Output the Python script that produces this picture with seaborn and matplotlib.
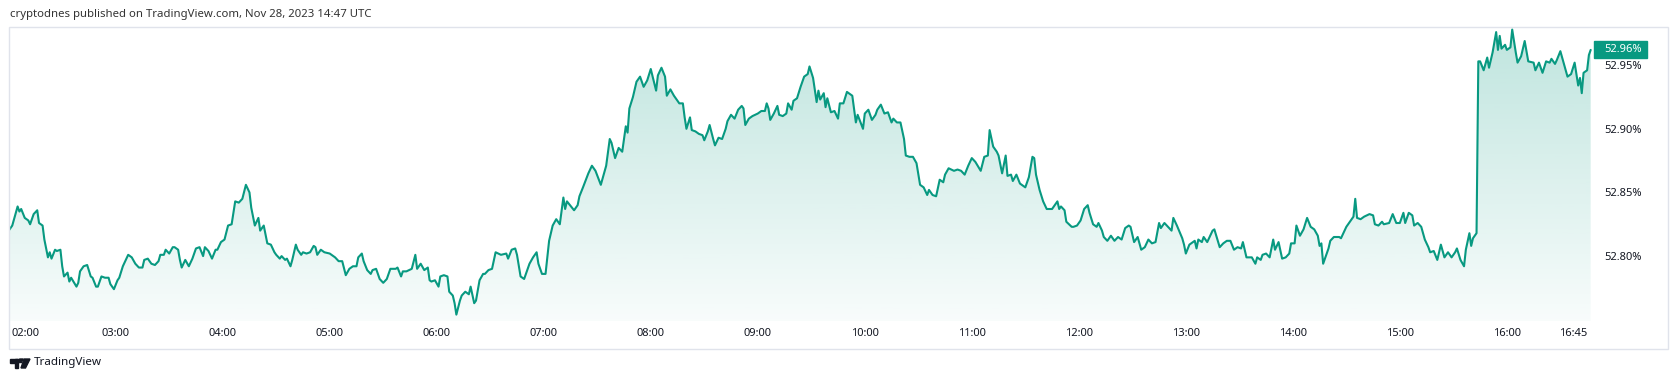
import numpy as np
import pandas as pd
import matplotlib
matplotlib.use("Agg")
import matplotlib.pyplot as plt
import matplotlib.colors as mcolors
import matplotlib.transforms as mtransforms
from matplotlib.patches import Rectangle, Polygon
import seaborn as sns

# minutes after 02:00 (chart time) and the value in %
minutes = [
    0, 2, 5, 6, 7, 9, 11, 12, 14, 16, 17, 19, 20, 22, 23, 24, 26, 27, 29, 30,
    31, 33, 34, 35, 38, 39, 40, 42, 44, 46, 47, 49, 50, 52, 54, 56, 57, 59, 61, 62,
    64, 67, 69, 71, 73, 75, 76, 78, 80, 82, 84, 85, 87, 88, 90, 92, 93, 95, 96, 97,
    99, 101, 103, 105, 107, 109, 110, 112, 114, 116, 117, 119, 121, 123, 125, 127, 129, 131, 133, 134,
    135, 136, 138, 140, 141, 143, 145, 147, 149, 150, 152, 153, 155, 156, 158, 159, 161, 162, 164, 165,
    167, 169, 171, 172, 173, 175, 177, 180, 183, 185, 187, 189, 191, 193, 195, 196, 198, 199, 201, 203,
    204, 206, 208, 210, 212, 214, 217, 218, 220, 221, 223, 226, 228, 229, 231, 233, 235, 236, 237, 239,
    241, 242, 244, 246, 247, 249, 250, 251, 253, 254, 256, 258, 259, 261, 262, 264, 266, 267, 269, 271,
    273, 276, 279, 280, 282, 284, 285, 287, 289, 292, 294, 296, 297, 299, 301, 303, 305, 307, 309, 311,
    312, 313, 317, 319, 320, 322, 325, 327, 329, 332, 335, 337, 338, 340, 342, 344, 346, 347, 348, 350,
    352, 354, 356, 358, 360, 363, 364, 366, 368, 369, 371, 373, 376, 378, 379, 380, 382, 383, 385, 387,
    389, 390, 392, 393, 395, 396, 398, 400, 402, 403, 405, 407, 409, 411, 412, 413, 415, 417, 420, 422,
    424, 425, 426, 427, 429, 431, 432, 434, 436, 437, 439, 440, 442, 444, 446, 448, 449, 451, 453, 454,
    455, 457, 458, 459, 461, 463, 465, 466, 468, 470, 473, 475, 476, 479, 480, 482, 484, 486, 487, 489,
    491, 493, 495, 496, 498, 500, 502, 503, 505, 507, 509, 511, 513, 515, 516, 518, 520, 522, 524, 525,
    527, 530, 532, 534, 536, 538, 540, 542, 545, 547, 549, 550, 552, 554, 555, 557, 559, 560, 562, 563,
    565, 567, 570, 572, 574, 575, 576, 578, 580, 582, 583, 585, 588, 589, 590, 592, 593, 596, 597, 599,
    601, 603, 605, 606, 608, 610, 611, 613, 614, 616, 618, 620, 622, 624, 626, 628, 629, 631, 633, 635,
    637, 639, 641, 643, 645, 646, 648, 650, 652, 653, 655, 658, 659, 660, 662, 663, 665, 666, 667, 669,
    670, 672, 675, 676, 679, 681, 683, 685, 687, 689, 691, 692, 694, 697, 699, 700, 702, 703, 705, 707,
    709, 710, 712, 714, 716, 718, 719, 721, 722, 724, 726, 728, 730, 732, 734, 735, 736, 737, 740, 741,
    743, 746, 747, 750, 752, 754, 755, 756, 758, 760, 763, 765, 766, 768, 770, 771, 774, 776, 778, 780,
    782, 783, 785, 787, 788, 790, 792, 794, 796, 797, 799, 801, 803, 805, 807, 809, 811, 812, 814, 816,
    817, 819, 820, 821, 823, 824, 825, 827, 829, 830, 832, 834, 835, 836, 837, 839, 840, 842, 843, 845,
    846, 848, 850, 852, 855, 856, 858, 860, 862, 864, 865, 867, 868, 870, 872, 874, 876, 878, 880, 881,
    882, 883, 885, 886, 887,
]
values = [
    52.820, 52.824, 52.839, 52.835, 52.837, 52.830, 52.828, 52.825, 52.833, 52.836, 52.826, 52.824, 52.813, 52.799, 52.803, 52.798, 52.805, 52.804, 52.805, 52.792,
    52.784, 52.787, 52.780, 52.783, 52.776, 52.779, 52.788, 52.792, 52.793, 52.784, 52.783, 52.776, 52.776, 52.784, 52.783, 52.783, 52.778, 52.774, 52.781, 52.783,
    52.792, 52.801, 52.799, 52.794, 52.791, 52.791, 52.797, 52.798, 52.794, 52.793, 52.796, 52.801, 52.801, 52.805, 52.802, 52.807, 52.807, 52.805, 52.797, 52.791,
    52.797, 52.792, 52.798, 52.806, 52.807, 52.800, 52.807, 52.804, 52.798, 52.805, 52.805, 52.811, 52.813, 52.824, 52.825, 52.843, 52.842, 52.845, 52.856, 52.853,
    52.850, 52.838, 52.824, 52.830, 52.820, 52.824, 52.810, 52.809, 52.803, 52.801, 52.798, 52.800, 52.797, 52.798, 52.792, 52.797, 52.809, 52.805, 52.801, 52.803,
    52.802, 52.803, 52.808, 52.807, 52.801, 52.805, 52.803, 52.802, 52.799, 52.796, 52.796, 52.785, 52.790, 52.792, 52.792, 52.799, 52.802, 52.796, 52.789, 52.786,
    52.789, 52.790, 52.782, 52.779, 52.782, 52.790, 52.790, 52.791, 52.784, 52.788, 52.788, 52.790, 52.801, 52.790, 52.794, 52.789, 52.791, 52.781, 52.780, 52.781,
    52.776, 52.784, 52.785, 52.784, 52.772, 52.769, 52.763, 52.754, 52.765, 52.769, 52.772, 52.770, 52.776, 52.763, 52.765, 52.781, 52.786, 52.786, 52.789, 52.790,
    52.803, 52.801, 52.802, 52.798, 52.805, 52.806, 52.801, 52.784, 52.782, 52.794, 52.799, 52.803, 52.794, 52.786, 52.786, 52.812, 52.824, 52.829, 52.825, 52.846,
    52.837, 52.843, 52.836, 52.840, 52.847, 52.854, 52.865, 52.871, 52.867, 52.856, 52.871, 52.892, 52.889, 52.877, 52.885, 52.882, 52.902, 52.897, 52.916, 52.925,
    52.937, 52.941, 52.933, 52.938, 52.947, 52.930, 52.942, 52.948, 52.941, 52.926, 52.931, 52.926, 52.920, 52.920, 52.909, 52.900, 52.909, 52.899, 52.898, 52.896,
    52.895, 52.891, 52.898, 52.903, 52.892, 52.887, 52.893, 52.892, 52.900, 52.906, 52.911, 52.908, 52.915, 52.918, 52.916, 52.903, 52.908, 52.910, 52.912, 52.914,
    52.914, 52.920, 52.916, 52.907, 52.912, 52.918, 52.911, 52.910, 52.912, 52.920, 52.915, 52.922, 52.924, 52.933, 52.941, 52.943, 52.949, 52.940, 52.921, 52.930,
    52.923, 52.928, 52.917, 52.924, 52.913, 52.914, 52.908, 52.920, 52.920, 52.929, 52.926, 52.905, 52.911, 52.900, 52.912, 52.915, 52.907, 52.911, 52.915, 52.919,
    52.912, 52.913, 52.905, 52.908, 52.905, 52.905, 52.892, 52.879, 52.878, 52.878, 52.873, 52.856, 52.854, 52.848, 52.852, 52.848, 52.847, 52.860, 52.858, 52.864,
    52.869, 52.867, 52.868, 52.867, 52.864, 52.871, 52.877, 52.874, 52.867, 52.878, 52.879, 52.899, 52.886, 52.882, 52.879, 52.865, 52.879, 52.863, 52.864, 52.859,
    52.864, 52.857, 52.854, 52.862, 52.878, 52.877, 52.864, 52.852, 52.843, 52.837, 52.837, 52.837, 52.843, 52.837, 52.839, 52.836, 52.827, 52.823, 52.823, 52.824,
    52.828, 52.837, 52.840, 52.834, 52.825, 52.823, 52.826, 52.820, 52.815, 52.812, 52.816, 52.812, 52.815, 52.813, 52.822, 52.824, 52.823, 52.811, 52.815, 52.805,
    52.807, 52.813, 52.810, 52.811, 52.826, 52.822, 52.826, 52.823, 52.820, 52.830, 52.824, 52.814, 52.809, 52.802, 52.809, 52.810, 52.812, 52.806, 52.813, 52.811,
    52.815, 52.811, 52.820, 52.821, 52.807, 52.810, 52.812, 52.812, 52.805, 52.807, 52.806, 52.811, 52.799, 52.799, 52.794, 52.799, 52.797, 52.801, 52.802, 52.799,
    52.813, 52.805, 52.811, 52.798, 52.799, 52.802, 52.810, 52.810, 52.824, 52.816, 52.821, 52.830, 52.823, 52.821, 52.816, 52.808, 52.810, 52.794, 52.806, 52.812,
    52.815, 52.815, 52.814, 52.823, 52.827, 52.831, 52.845, 52.830, 52.829, 52.831, 52.833, 52.832, 52.825, 52.824, 52.827, 52.825, 52.826, 52.833, 52.826, 52.826,
    52.834, 52.826, 52.834, 52.832, 52.824, 52.826, 52.823, 52.813, 52.807, 52.803, 52.804, 52.797, 52.809, 52.799, 52.803, 52.799, 52.803, 52.806, 52.797, 52.792,
    52.805, 52.818, 52.808, 52.814, 52.818, 52.953, 52.953, 52.946, 52.956, 52.948, 52.960, 52.976, 52.962, 52.973, 52.963, 52.966, 52.962, 52.964, 52.978, 52.960,
    52.952, 52.957, 52.969, 52.953, 52.952, 52.946, 52.952, 52.944, 52.953, 52.952, 52.955, 52.951, 52.954, 52.961, 52.951, 52.941, 52.943, 52.952, 52.934, 52.940,
    52.928, 52.944, 52.946, 52.958, 52.962,
]
hour_labels = ["02:00", "03:00", "04:00", "05:00", "06:00", "07:00", "08:00", "09:00",
               "10:00", "11:00", "12:00", "13:00", "14:00", "15:00", "16:00", "16:45"]
tick_minutes = [0, 60, 120, 180, 240, 300, 360, 420, 480, 540, 600, 660, 720, 780, 840, 885]
price_ticks = [52.80, 52.85, 52.90, 52.95]

W, H = 1678, 382
TEAL = "#089981"
TXT = "#131722"
FS = 8.0

sns.set_style("white")
plt.rcParams["font.family"] = ["Noto Sans", "DejaVu Sans"]

start = pd.Timestamp("2023-11-28 02:00")
df = pd.DataFrame({"time": start + pd.to_timedelta(minutes, unit="m"), "value": values})

def fx(px):
    return px / W

def fy(py):
    return 1 - py / H

fig = plt.figure(figsize=(W / 100, H / 100), dpi=100)
ax = fig.add_axes([fx(9), fy(321), fx(1593) - fx(9), fy(27) - fy(321)])

sns.lineplot(data=df, x="time", y="value", ax=ax, color=TEAL, lw=1.5, zorder=3)

x0 = start + pd.Timedelta(minutes=0.17)
x1 = start + pd.Timedelta(minutes=888.3)
y0, y1 = 52.749, 52.980

# vertical gradient under the line
poly = ax.fill_between(df["time"], df["value"], y0, color="none", lw=0)
grad = np.zeros((256, 1, 4))
grad[..., :3] = mcolors.to_rgb(TEAL)
grad[..., 3] = np.linspace(0.26, 0.03, 256)[:, None]
xn0, xn1 = ax.convert_xunits(x0), ax.convert_xunits(x1)
im = ax.imshow(grad, extent=[xn0, xn1, y0, y1], aspect="auto", origin="upper", zorder=2)
im.set_clip_path(poly.get_paths()[0], transform=ax.transData)

ax.set_xlim(x0, x1)
ax.set_ylim(y0, y1)
for s in ax.spines.values():
    s.set_visible(False)
ax.set_xlabel("")
ax.set_ylabel("")

# price scale
ax.yaxis.tick_right()
ax.set_yticks(price_ticks)
ax.set_yticklabels([f"{p:.2f}%" for p in price_ticks])
ax.tick_params(axis="y", length=0, pad=8.4, labelsize=FS, labelcolor=TXT)

# time scale
ax.set_xticks([])
xt = ax.get_xaxis_transform()
for i, (m, lab) in enumerate(zip(tick_minutes, hour_labels)):
    t = start + pd.Timedelta(minutes=m)
    ha = "center"
    if i == 0:
        t, ha = start + pd.Timedelta(minutes=1.3), "left"
    elif i == len(hour_labels) - 1:
        ha = "right"
    ax.text(t, -12 / 294, lab, transform=xt, ha=ha, va="center", fontsize=FS, color=TXT)

# last value badge
last = values[-1]
bt = mtransforms.blended_transform_factory(fig.transFigure, ax.transData)
bh = 17 / 1273
ax.add_patch(Rectangle((fx(1594), last - bh / 2), fx(53), bh, transform=bt,
                       color=TEAL, clip_on=False, zorder=5))
ax.text(fx(1604), last, f"{last:.2f}%", transform=bt, ha="left", va="center",
        fontsize=FS, color="white", fontweight="bold", zorder=6)

# outer frame
fig.patches.append(Rectangle((fx(9), fy(349)), fx(1668) - fx(9), fy(27) - fy(349),
                             transform=fig.transFigure, fill=False, ec="#e0e3eb", lw=1))

fig.text(fx(10), fy(14), "cryptodnes published on TradingView.com, Nov 28, 2023 14:47 UTC",
         ha="left", va="center", fontsize=8.2, color="#333333")

# TradingView logo
fig.patches.append(Rectangle((fx(10), fy(362.5)), fx(8), fy(359) - fy(362.5),
                             transform=fig.transFigure, color=TXT))
fig.patches.append(Rectangle((fx(14.5), fy(368)), fx(3.5), fy(359) - fy(368),
                             transform=fig.transFigure, color=TXT))
fig.patches.append(Polygon([(fx(19.5), fy(359)), (fx(23), fy(359)), (fx(21.5), fy(362.5)), (fx(19.5), fy(362.5))],
                           transform=fig.transFigure, color=TXT))
fig.patches.append(Polygon([(fx(24), fy(359)), (fx(30), fy(359)), (fx(25.5), fy(368)), (fx(21), fy(368))],
                           transform=fig.transFigure, color=TXT))
fig.text(fx(34), fy(363), "TradingView", ha="left", va="center", fontsize=8.4, color=TXT)

fig.savefig("out.png", dpi=100)
